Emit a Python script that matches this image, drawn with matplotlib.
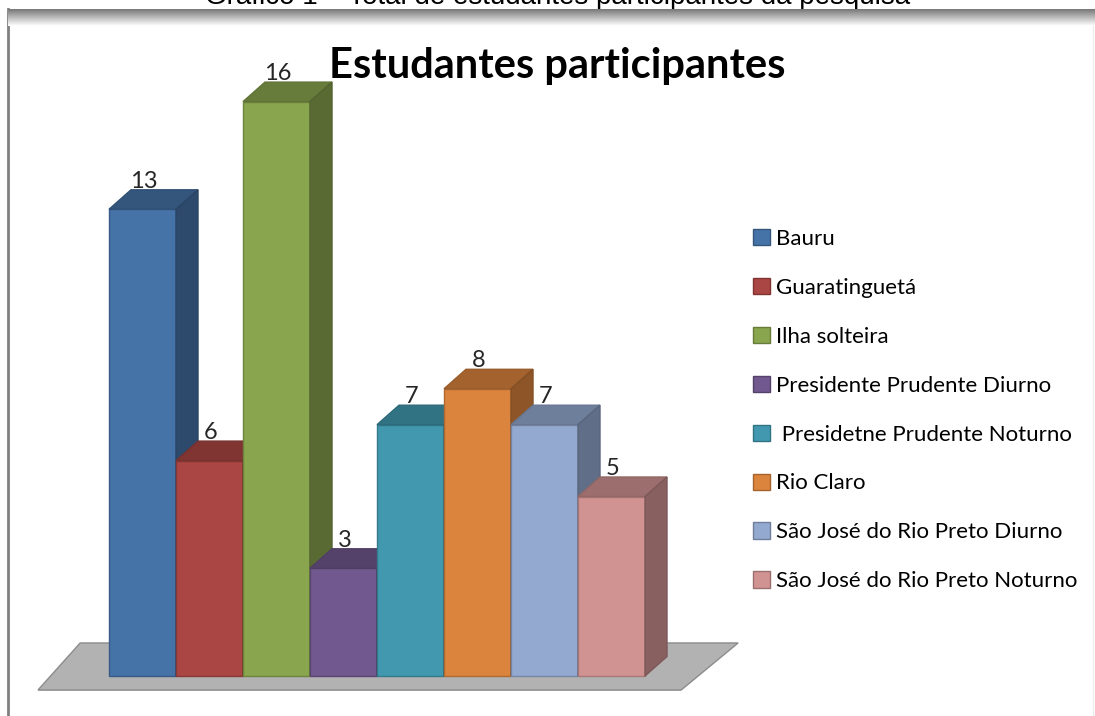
import numpy as np
import matplotlib.pyplot as plt
from matplotlib.patches import Polygon, Patch
from matplotlib.lines import Line2D
from matplotlib import colors as mcolors

# dados do gráfico
campi = ['Bauru', 'Guaratinguetá', 'Ilha solteira', 'Presidente Prudente Diurno',
         ' Presidetne Prudente Noturno', 'Rio Claro', 'São José do Rio Preto Diurno',
         'São José do Rio Preto Noturno']
estudantes = [13, 6, 16, 3, 7, 8, 7, 5]
cores = ['#4572A7', '#AA4643', '#89A54E', '#71588F',
         '#4198AF', '#DB843D', '#93A9CF', '#D19392']

titulo = 'Estudantes participantes'
legenda_fig = 'Gráfico 1 – Total de estudantes participantes da pesquisa'


def escurece(c, f):
    r, g, b = mcolors.to_rgb(c)
    return (r * f, g * f, b * f)


W, H = 1095, 716
fig = plt.figure(figsize=(W / 100, H / 100), dpi=100)
ax = fig.add_axes([0, 0, 1, 1])

# escala: 1 barra = 67 px de largura, 1 estudante = 35.9 px
px_x, px_y = 67.0, 35.9
x0, y0 = 109, 676
ax.set_xlim(-x0 / px_x, (W - x0) / px_x)
ax.set_ylim(-(H - y0) / px_y, y0 / px_y)
ax.axis('off')

# profundidade do efeito 3D
dx, dy = 22 / px_x, 19.5 / px_y

# piso cinza
ax.add_patch(Polygon([(-1.06, -0.43), (8.54, -0.43), (8.54, -0.39), (-1.06, -0.39)],
                     closed=True, facecolor='#c8c8c8', edgecolor='none'))
ax.add_patch(Polygon([(-0.43, 0.92), (9.39, 0.92), (8.54, -0.39), (-1.06, -0.39)],
                     closed=True, facecolor='#b2b2b2', edgecolor='#8c8c8c', lw=1))

for i, (v, c) in enumerate(zip(estudantes, cores)):
    frente = [(i, 0), (i + 1, 0), (i + 1, v), (i, v)]
    topo = [(i, v), (i + 1, v), (i + 1 + dx, v + dy), (i + dx, v + dy)]
    lado = [(i + 1, 0), (i + 1 + dx, dy), (i + 1 + dx, v + dy), (i + 1, v)]
    ax.add_patch(Polygon(frente, closed=True, facecolor=c,
                         edgecolor=escurece(c, 0.8), lw=1))
    ax.add_patch(Polygon(topo, closed=True, facecolor=escurece(c, 0.75),
                         edgecolor=escurece(c, 0.7), lw=1))
    ax.add_patch(Polygon(lado, closed=True, facecolor=escurece(c, 0.65),
                         edgecolor=escurece(c, 0.6), lw=1))
    ax.text(i + 0.52, v + dy + 2 / px_y, str(v), ha='center', va='baseline',
            fontsize=17, family='Lato', color='#262626')

fig.text(557 / W, 1 - 78 / H, titulo, ha='center', va='baseline',
         fontsize=30, fontweight='bold', family='Lato', color='black')

fig.text(558 / W, 1 - 4 / H, legenda_fig, ha='center', va='baseline',
         fontsize=20, family='Liberation Sans', color='black')

handles = [Patch(facecolor=c, edgecolor=escurece(c, 0.75)) for c in cores]
ax.legend(handles, campi, loc='upper left', bbox_to_anchor=(753 / W, 1 - 229 / H),
          bbox_transform=fig.transFigure, frameon=False,
          prop={'family': 'Lato', 'size': 16}, handlelength=0.75, handleheight=0.75,
          handletextpad=0.3, labelspacing=1.3, borderpad=0, borderaxespad=0)

# moldura: sombra no topo e linha à esquerda
gax = fig.add_axes([8 / W, 1 - 26 / H, (W - 8) / W, 17 / H])
grad = np.linspace(0.47, 1.0, 64)[:, None] * np.ones((1, 8))
gax.imshow(grad, cmap='gray', vmin=0, vmax=1, aspect='auto')
gax.axis('off')
gax.set_zorder(5)
fig.add_artist(Line2D([8 / W, 8 / W], [0, 1 - 9 / H], transform=fig.transFigure,
                      color='#808080', lw=2))
fig.add_artist(Line2D([1093 / W, 1093 / W], [0, 1 - 9 / H], transform=fig.transFigure,
                      color='#ededed', lw=1))

fig.savefig('out.png', dpi=100)
